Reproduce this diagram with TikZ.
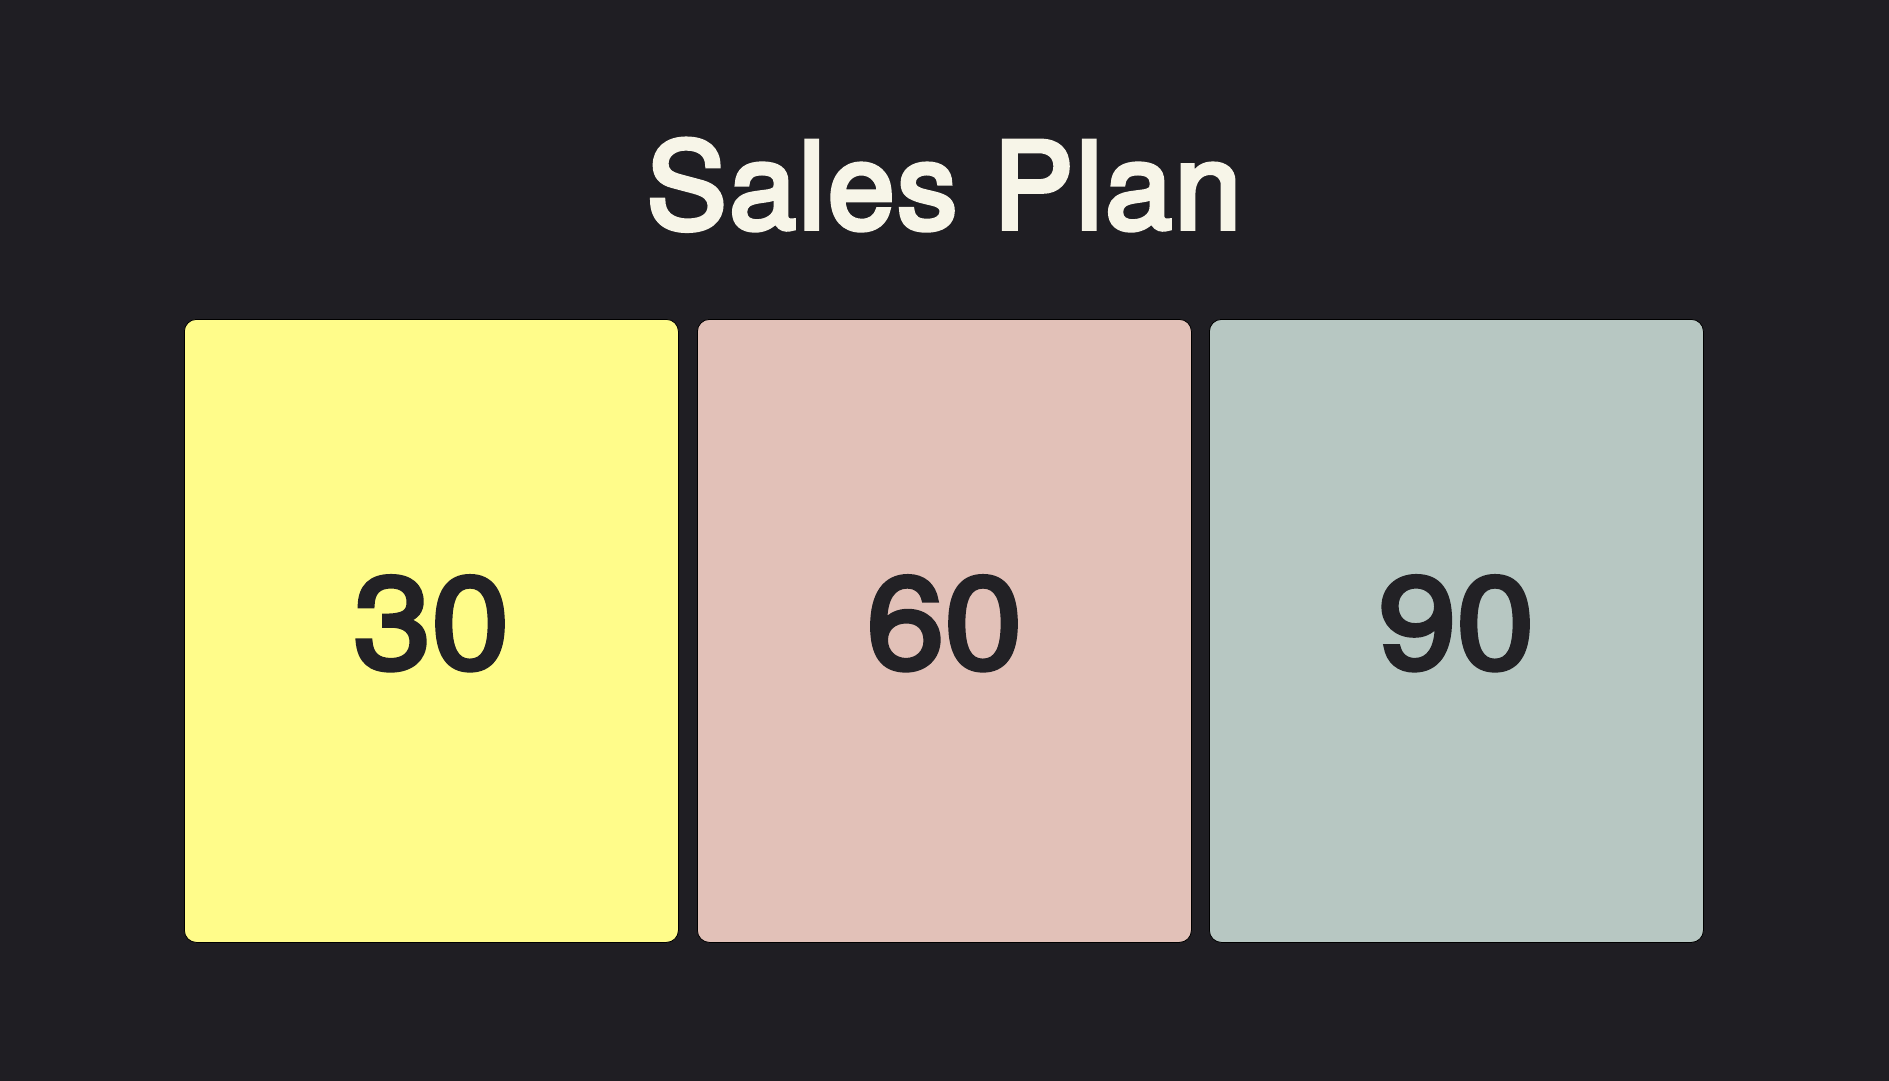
\documentclass[tikz,border=0pt]{standalone}
\usepackage{fontspec}
\setmainfont{TeX Gyre Heros}
\newfontfamily\titlefont[FakeBold=4, LetterSpace=2.2]{TeX Gyre Heros}
\newfontfamily\numfont[FakeBold=3.5, FakeStretch=1.08]{TeX Gyre Heros}
\definecolor{bg}{HTML}{1F1E23}
\definecolor{ink}{HTML}{222125}
\definecolor{cream}{HTML}{F7F5E8}
\definecolor{cyellow}{HTML}{FFFC8A}
\definecolor{cpink}{HTML}{E2C1B8}
\definecolor{cgray}{HTML}{B7C7C2}
\tikzset{
  card/.style={draw=black, line width=0.8pt, rounded corners=12pt, inner sep=0pt, minimum width=494pt, minimum height=623pt, anchor=north west},
  num/.style={text=ink, font=\numfont\fontsize{130}{130}\selectfont},
}
\begin{document}
\begin{tikzpicture}[x=1pt,y=-1pt]
\useasboundingbox (0,0) rectangle (1889,1080);
\fill[bg] (-6,-6) rectangle (1895,1086);
\node[text=cream, font=\titlefont\fontsize{120}{120}\selectfont, anchor=base] (title) at (944,228.5) {Sales Plan};
\node[card, fill=cyellow] (c1) at (184,319) {};
\node[card, fill=cpink] (c2) at (697,319) {};
\node[card, fill=cgray] (c3) at (1209,319) {};
\node[num, anchor=base] (n1) at ([yshift=-37.5pt]c1.center) {30};
\node[num, anchor=base] (n2) at ([yshift=-37.5pt]c2.center) {60};
\node[num, anchor=base] (n3) at ([yshift=-37.5pt]c3.center) {90};
\end{tikzpicture}
\end{document}
